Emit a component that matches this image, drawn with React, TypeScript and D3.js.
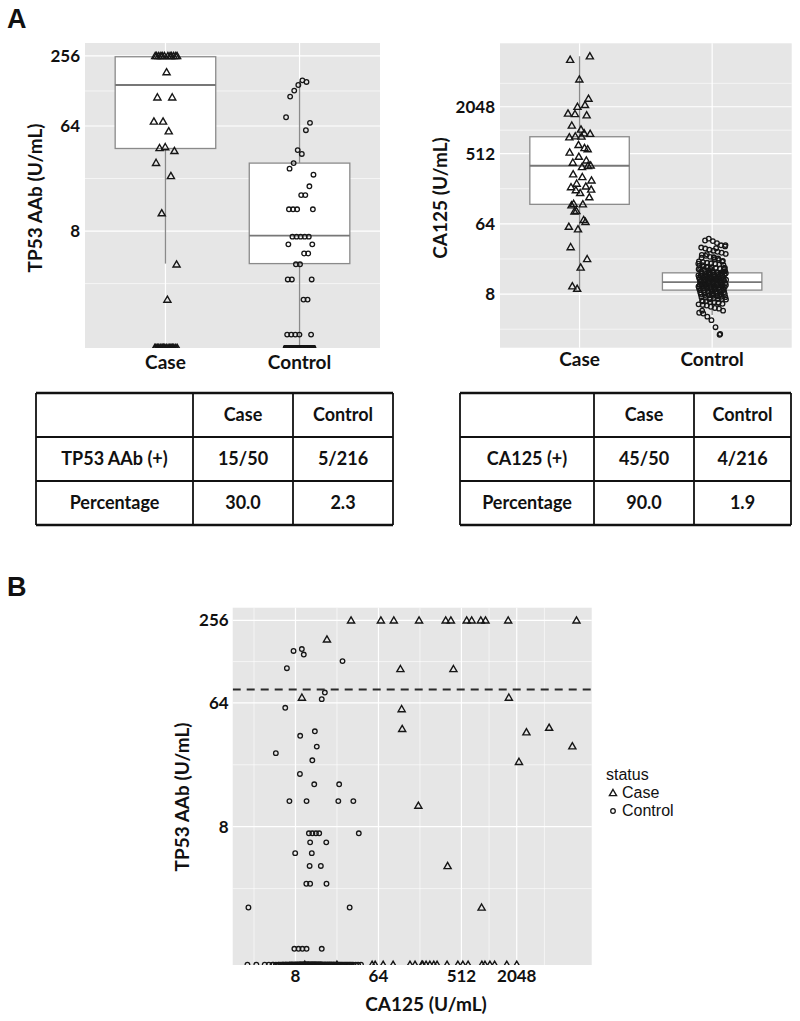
import React from 'react';
import * as d3 from 'd3';

// ---------------- data ----------------
const groups = ['Case', 'Control'];
const tp53Ticks = [8, 64, 256];
const ca125Ticks = [8, 64, 512, 2048];
const TP53_FLOOR = 0.79; // values below detection drawn at the floor
const TP53_CUTOFF = 80;

// Case subjects (paired): CA125 and TP53 AAb, U/mL
const caseCA125 = [32.2, 68, 94, 177, 345, 393, 584, 662, 832, 936, 1652, 9150,
  17.6, 111, 419, 9.4, 1680, 114.5, 116, 2610, 4610, 8250, 2165, 174, 362, 849,
  10.1, 22.6, 54.6, 58.9, 72, 92.4, 141, 160, 190, 194, 211, 232, 256, 278, 357,
  468, 530, 605, 855, 923, 1045, 1176, 1595, 2048];
const caseTP53 = [256, 256, 256, 256, 256, 256, 256, 256, 256, 256, 256, 256,
  186, 113, 113, 70, 70, 57.7, 41.4, 39.1, 42.2, 30.9, 23.8, 11.4, 4.14, 2.06,
  0.79, 0.79, 0.79, 0.79, 0.79, 0.79, 0.79, 0.79, 0.79, 0.79, 0.79, 0.79, 0.79, 0.79, 0.79,
  0.79, 0.79, 0.79, 0.79, 0.79, 0.79, 0.79, 0.79, 0.79];

// Control subjects with detectable TP53 AAb (paired)
const controlCA125 = [7.62, 9.38, 9.85, 26.0, 6.45, 16.7, 15.45, 6.19, 9.0, 13.0, 13.64,
  4.89, 12.2, 8.94, 12.8, 23.9, 6.87, 10.56, 23.4, 34.1, 11.2, 12.2, 13.36, 14.5, 39.1,
  11.55, 17.3, 7.94, 12.04, 11.4, 15.1, 10.5, 11.55, 17.4, 2.46, 31.1, 7.78, 8.63, 9.51,
  10.56, 15.45];
const controlTP53 = [153, 158, 144, 129, 114.5, 76.1, 68.1, 58.9, 36.8, 39.7, 30.7,
  27.5, 24.4, 19.4, 16.3, 16.3, 12.3, 12.3, 12.3, 12.3, 7.16, 7.16, 7.16, 7.16, 7.16,
  6.15, 6.15, 5.13, 5.13, 4.14, 4.14, 3.07, 3.07, 3.07, 2.06, 2.06, 1.03, 1.03, 1.03,
  1.03, 1.03];
// Controls with TP53 AAb at the floor: CA125 only
const controlLowCA125 = [2.4, 3.0, 3.7,
  4.1, 4.5, 4.6, 4.9, 5.2, 5.3, 5.5, 5.7,
  5.8, 5.9, 6.0, 6.2, 6.3, 6.3, 6.5, 6.6, 6.8, 6.9, 6.9, 7.0, 7.1, 7.2, 7.3, 7.3, 7.4, 7.5, 7.6, 7.7, 7.8, 7.9,
  8.0, 8.0, 8.1, 8.2, 8.3, 8.4, 8.4, 8.5, 8.6, 8.7, 8.8, 8.8, 8.9, 9.0, 9.1, 9.1, 9.2, 9.3, 9.4, 9.4,
  9.5, 9.6, 9.6, 9.7, 9.8, 9.9, 10.0, 10.0, 10.1, 10.2, 10.2, 10.3, 10.4, 10.5, 10.5, 10.6, 10.7, 10.8,
  10.8, 10.9, 11.0, 11.0, 11.1, 11.1, 11.2, 11.2, 11.3, 9.0, 9.9, 10.6,
  11.4, 11.5, 11.6, 11.7, 11.8, 11.9, 12.0, 12.0, 12.1, 12.2, 12.3, 12.4, 12.5, 12.6, 12.7, 12.8, 12.9,
  13.0, 13.1, 13.2, 13.3, 13.4, 13.5, 13.6, 13.7, 13.9, 14.0, 14.1, 14.2, 14.4, 14.5, 14.6, 14.8, 14.9,
  15.0, 15.1, 15.3, 15.4, 15.6, 15.8, 11.6, 12.2, 12.5, 12.9, 13.3, 13.8, 14.3, 14.7, 15.2, 15.9,
  16.1, 16.4, 16.6, 16.9, 17.1, 17.4, 17.7, 18.0, 18.3, 18.6, 18.9, 19.2, 19.5, 19.9, 20.2, 20.6, 21.0,
  21.4, 21.9, 22.4, 16.8, 17.9, 18.8, 19.7, 20.9,
  22.9, 23.5, 24.1, 24.8, 25.5, 26.3, 27.2, 28.0, 28.9, 29.8, 30.8, 31.7,
  32.8, 33.9, 36.2, 38.4, 41.3];

// Box statistics (Case, Control)
const tp53BoxLow = [4.2, 0.79];
const tp53BoxQ1 = [41, 4.2];
const tp53BoxMed = [144, 7.3];
const tp53BoxQ3 = [252, 30.7];
const tp53BoxHigh = [256, 156];
const ca125BoxLow = [9.2, 4.3];
const ca125BoxQ1 = [114, 9.0];
const ca125BoxMed = [357, 11.4];
const ca125BoxQ3 = [843, 15.0];
const ca125BoxHigh = [9150, 31];

// Tables
const tableHeader = ['', 'Case', 'Control'];
const tp53TableRows = [['TP53 AAb (+)', '15/50', '5/216'], ['Percentage', '30.0', '2.3']];
const ca125TableRows = [['CA125 (+)', '45/50', '4/216'], ['Percentage', '90.0', '1.9']];

// ---------------- helpers ----------------
const FONT = "Lato, 'Open Sans', 'DejaVu Sans', sans-serif";
const ARIAL = "'Liberation Sans', Arial, sans-serif";
const PANEL_BG = '#e6e6e6';
const PT = '#161616';
const triPath = d3.symbol().type(d3.symbolTriangle).size(22)() as string;

function minorBreaks(ticks: number[]) {
  const l = ticks.map(Math.log2);
  const n = l.length;
  const ext = [l[0] - (l[1] - l[0]), ...l, l[n - 1] + (l[n - 1] - l[n - 2])];
  const out: number[] = [];
  for (let i = 0; i < ext.length - 1; i++) out.push(Math.pow(2, (ext[i] + ext[i + 1]) / 2));
  return out;
}
const jit = (i: number) => ((i * 0.6180339887 + 0.13) % 1) - 0.5;

function Tri({ x, y }: { x: number; y: number }) {
  return <path d={triPath} transform={`translate(${x},${y + 0.6})`} fill="none" stroke={PT} strokeWidth={1.4} />;
}
function Circ({ x, y }: { x: number; y: number }) {
  return <circle cx={x} cy={y} r={2.3} fill="none" stroke={PT} strokeWidth={1.3} />;
}

type BoxPanelProps = {
  id: string; x0: number; x1: number; y0: number; y1: number;
  yDomain: [number, number]; ticks: number[];
  lo: number[]; q1: number[]; med: number[]; q3: number[]; hi: number[];
  caseVals: number[]; ctrlVals: number[];
  title: string; titleX: number; titleY: number; labelBaseline: number;
};

function BoxPanel(p: BoxPanelProps) {
  const x = d3.scalePoint<string>().domain(groups).range([p.x0, p.x1]).padding(0.6);
  const y = d3.scaleLog().base(2).domain(p.yDomain).range([p.y1, p.y0]);
  const step = x.step();
  const bw = step * 0.75;
  const minors = minorBreaks(p.ticks).filter(v => v > p.yDomain[0] && v < p.yDomain[1]);
  return (
    <g>
      <defs>
        <clipPath id={p.id}><rect x={p.x0} y={p.y0} width={p.x1 - p.x0} height={p.y1 - p.y0} /></clipPath>
      </defs>
      <rect x={p.x0} y={p.y0} width={p.x1 - p.x0} height={p.y1 - p.y0} fill={PANEL_BG} />
      {minors.map((v, i) => <line key={'mn' + i} x1={p.x0} x2={p.x1} y1={y(v)} y2={y(v)} stroke="#fff" strokeWidth={0.6} />)}
      {p.ticks.map((v, i) => <line key={'mj' + i} x1={p.x0} x2={p.x1} y1={y(v)} y2={y(v)} stroke="#fff" strokeWidth={1.2} />)}
      {groups.map(g => <line key={'v' + g} x1={x(g)} x2={x(g)} y1={p.y0} y2={p.y1} stroke="#fff" strokeWidth={1.2} />)}
      <g clipPath={`url(#${p.id})`}>
        {groups.map((g, i) => {
          const cx = x(g) as number;
          return (
            <g key={'b' + g}>
              <line x1={cx} x2={cx} y1={y(p.lo[i])} y2={y(p.q1[i])} stroke="#8a8a8a" strokeWidth={1.3} />
              <line x1={cx} x2={cx} y1={y(p.q3[i])} y2={y(p.hi[i])} stroke="#8a8a8a" strokeWidth={1.3} />
              <rect x={cx - bw / 2} y={y(p.q3[i])} width={bw} height={y(p.q1[i]) - y(p.q3[i])} fill="#fff" stroke="#8a8a8a" strokeWidth={1.3} />
              <line x1={cx - bw / 2} x2={cx + bw / 2} y1={y(p.med[i])} y2={y(p.med[i])} stroke="#777" strokeWidth={1.8} />
            </g>
          );
        })}
        {p.caseVals.map((v, i) => <Tri key={'c' + i} x={(x('Case') as number) + jit(i) * 24} y={y(v)} />)}
        {p.ctrlVals.map((v, i) => <Circ key={'k' + i} x={(x('Control') as number) + jit(i * 3 + 1) * 28} y={y(v)} />)}
      </g>
      {p.ticks.map((v, i) => (
        <text key={'t' + i} x={p.x0 - 5} y={y(v)} dy="0.35em" textAnchor="end" fontFamily={FONT} fontWeight={700} fontSize={17} fill="#111">{v}</text>
      ))}
      {groups.map(g => (
        <text key={'xl' + g} x={x(g)} y={p.labelBaseline} textAnchor="middle" fontFamily={FONT} fontWeight={700} fontSize={19} fill="#111">{g}</text>
      ))}
      <text transform={`translate(${p.titleX},${p.titleY}) rotate(-90)`} textAnchor="middle" dy="0.35em" fontFamily={FONT} fontWeight={700} fontSize={19} fill="#111">{p.title}</text>
    </g>
  );
}

function Table({ cols, rows, top, rowH, body }: { cols: number[]; rows: string[][]; top: number; rowH: number; body: string[][] }) {
  const all = [rows[0], ...body];
  const bottom = top + rowH * all.length;
  return (
    <g>
      {all.map((r, ri) => r.map((t, ci) => (
        <text key={ri + '-' + ci} x={(cols[ci] + cols[ci + 1]) / 2} y={top + rowH * ri + rowH / 2} dy="0.35em" textAnchor="middle"
          fontFamily={FONT} fontWeight={700} fontSize={18} fill="#111">{t}</text>
      )))}
      {d3.range(all.length + 1).map(i => (
        <line key={'h' + i} x1={cols[0]} x2={cols[cols.length - 1]} y1={top + rowH * i} y2={top + rowH * i} stroke="#111"
          strokeWidth={i === 0 || i === all.length ? 2.4 : 1.8} />
      ))}
      {cols.map((c, i) => <line key={'c' + i} x1={c} x2={c} y1={top} y2={bottom} stroke="#111" strokeWidth={1.8} />)}
    </g>
  );
}

function ScatterPanel() {
  const x0 = 232.7, x1 = 591.7, y0 = 607.7, y1 = 965;
  const x = d3.scaleLog().base(2).domain([Math.pow(2, 0.73), Math.pow(2, 13.71)]).range([x0, x1]);
  const y = d3.scaleLog().base(2).domain([Math.pow(2, -0.35), Math.pow(2, 8.305)]).range([y1, y0]);
  const xMin = minorBreaks(ca125Ticks).filter(v => v > x.domain()[0] && v < x.domain()[1]);
  const yMin = minorBreaks(tp53Ticks).filter(v => v > y.domain()[0] && v < y.domain()[1]);
  return (
    <g>
      <defs><clipPath id="clipB"><rect x={x0} y={y0} width={x1 - x0} height={y1 - y0} /></clipPath></defs>
      <rect x={x0} y={y0} width={x1 - x0} height={y1 - y0} fill={PANEL_BG} />
      {yMin.map((v, i) => <line key={'ym' + i} x1={x0} x2={x1} y1={y(v)} y2={y(v)} stroke="#fff" strokeWidth={0.6} />)}
      {xMin.map((v, i) => <line key={'xm' + i} y1={y0} y2={y1} x1={x(v)} x2={x(v)} stroke="#fff" strokeWidth={0.6} />)}
      {tp53Ticks.map((v, i) => <line key={'yj' + i} x1={x0} x2={x1} y1={y(v)} y2={y(v)} stroke="#fff" strokeWidth={1.2} />)}
      {ca125Ticks.map((v, i) => <line key={'xj' + i} y1={y0} y2={y1} x1={x(v)} x2={x(v)} stroke="#fff" strokeWidth={1.2} />)}
      <g clipPath="url(#clipB)">
        {controlCA125.map((v, i) => <Circ key={'k' + i} x={x(v)} y={y(controlTP53[i])} />)}
        {controlLowCA125.map((v, i) => <Circ key={'l' + i} x={x(v)} y={y(TP53_FLOOR)} />)}
        {caseCA125.map((v, i) => <Tri key={'c' + i} x={x(v)} y={y(caseTP53[i])} />)}
        <line x1={x0} x2={x1} y1={y(TP53_CUTOFF)} y2={y(TP53_CUTOFF)} stroke="#2a2a2a" strokeWidth={2} strokeDasharray="8,6" />
      </g>
      {tp53Ticks.map((v, i) => (
        <text key={'yt' + i} x={x0 - 4} y={y(v)} dy="0.35em" textAnchor="end" fontFamily={FONT} fontWeight={700} fontSize={17} fill="#111">{v}</text>
      ))}
      {ca125Ticks.map((v, i) => (
        <text key={'xt' + i} x={x(v)} y={982} textAnchor="middle" fontFamily={FONT} fontWeight={700} fontSize={17} fill="#111">{v}</text>
      ))}
      <text x={426} y={1011} textAnchor="middle" fontFamily={FONT} fontWeight={700} fontSize={19} fill="#111">CA125 (U/mL)</text>
      <text transform="translate(182,797) rotate(-90)" textAnchor="middle" dy="0.35em" fontFamily={FONT} fontWeight={700} fontSize={19} fill="#111">TP53 AAb (U/mL)</text>
      {/* legend */}
      <text x={606} y={780} fontFamily={ARIAL} fontSize={16} fill="#111">status</text>
      <Tri x={613} y={793} />
      <text x={622} y={798} fontFamily={ARIAL} fontSize={16} fill="#111">{groups[0]}</text>
      <Circ x={613} y={811} />
      <text x={622} y={816} fontFamily={ARIAL} fontSize={16} fill="#111">{groups[1]}</text>
    </g>
  );
}

export default function App() {
  return (
    <svg width={800} height={1021} style={{ position: 'absolute', left: 0, top: 0, background: '#fff' }}>
      <rect width={800} height={1021} fill="#fff" />
      <text x={7} y={28} fontFamily={ARIAL} fontWeight={700} fontSize={27} fill="#111">A</text>
      <text x={7} y={596} fontFamily={ARIAL} fontWeight={700} fontSize={27} fill="#111">B</text>
      <BoxPanel id="clipA1" x0={85} x1={380} y0={43} y1={348}
        yDomain={[Math.pow(2, -0.34), Math.pow(2, 8.37)]} ticks={tp53Ticks}
        lo={tp53BoxLow} q1={tp53BoxQ1} med={tp53BoxMed} q3={tp53BoxQ3} hi={tp53BoxHigh}
        caseVals={caseTP53} ctrlVals={[...controlTP53, ...controlLowCA125.map(() => TP53_FLOOR)]}
        title="TP53 AAb (U/mL)" titleX={35} titleY={198} labelBaseline={369} />
      <BoxPanel id="clipA2" x0={500} x1={791.7} y0={43.3} y1={347.7}
        yDomain={[Math.pow(2, 0.71), Math.pow(2, 13.71)]} ticks={ca125Ticks}
        lo={ca125BoxLow} q1={ca125BoxQ1} med={ca125BoxMed} q3={ca125BoxQ3} hi={ca125BoxHigh}
        caseVals={caseCA125} ctrlVals={[...controlCA125, ...controlLowCA125]}
        title="CA125 (U/mL)" titleX={440} titleY={198} labelBaseline={366} />
      <Table cols={[36, 193, 293, 393]} rows={[tableHeader]} top={393} rowH={44} body={tp53TableRows} />
      <Table cols={[460, 594, 694, 791]} rows={[tableHeader]} top={393} rowH={44} body={ca125TableRows} />
      <ScatterPanel />
    </svg>
  );
}
